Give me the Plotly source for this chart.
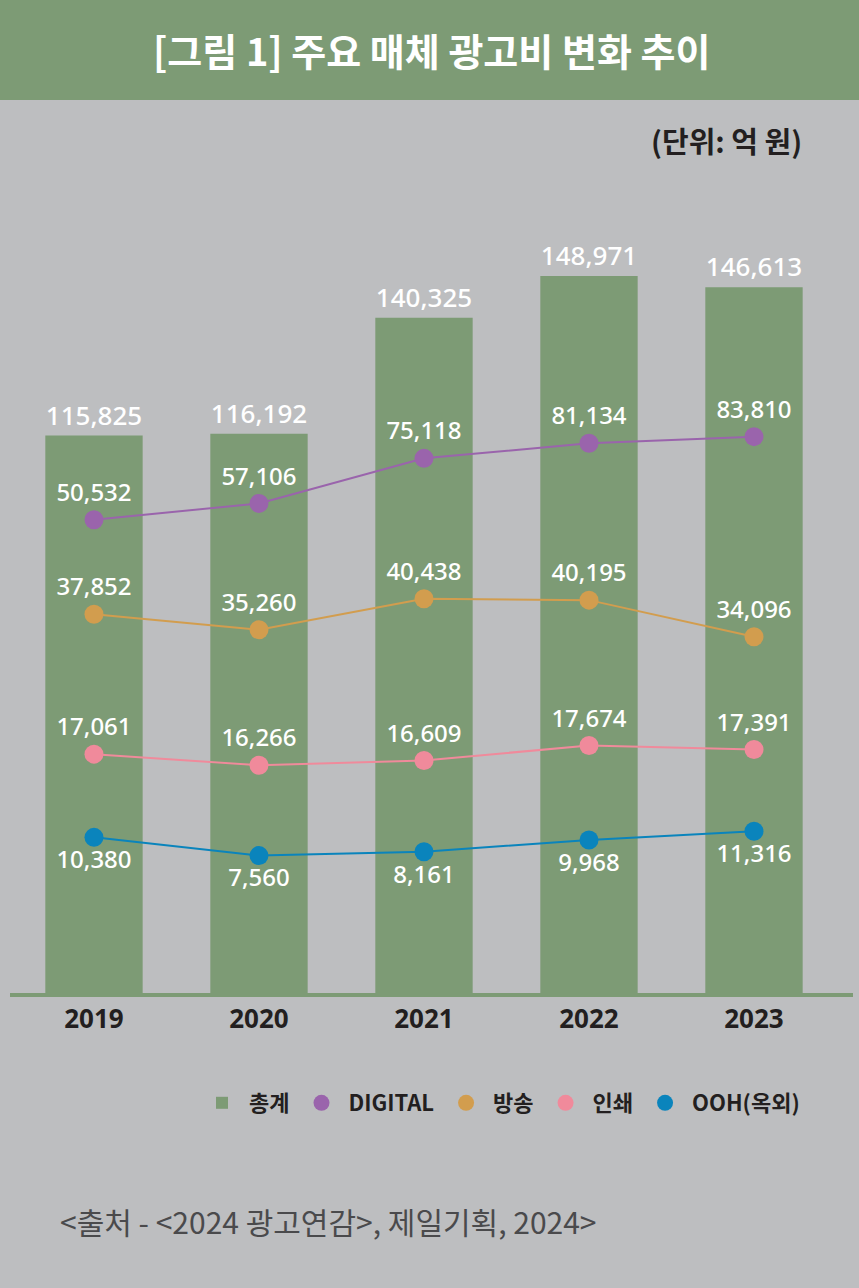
import plotly.graph_objects as go

# ---- data ----
years = ["2019", "2020", "2021", "2022", "2023"]
total = [115825, 116192, 140325, 148971, 146613]
digital = [50532, 57106, 75118, 81134, 83810]
broadcast = [37852, 35260, 40438, 40195, 34096]
printed = [17061, 16266, 16609, 17674, 17391]
ooh = [10380, 7560, 8161, 9968, 11316]

series_names = ["총계", "DIGITAL", "방송", "인쇄", "OOH(옥외)"]

# ---- styles ----
GREEN = "#7d9b75"
PURPLE = "#9a64ac"
ORANGE = "#d29d4e"
PINK = "#f08a9b"
BLUE = "#0a84bc"
BG = "#bdbec0"
DARK = "#231f20"
NUM_FONT = "Noto Sans"
KR_FONT = "Noto Sans CJK KR"

W, H = 859, 1288
ML, MR, MT, MB = 10, 6, 180, 295
PW = W - ML - MR
PH = H - MT - MB


def px(q):
    return (q - ML) / PW


def py(p):
    return (H - MB - p) / PH


fig = go.Figure()

fig.add_trace(go.Bar(
    x=years, y=total, name=series_names[0], marker=dict(color=GREEN, line=dict(width=0)),
    width=0.59, texttemplate="%{y:,}", textposition="outside", constraintext="none",
    textfont=dict(family=NUM_FONT, size=26, color="white", weight=500), cliponaxis=False,
    hoverinfo="skip", yaxis="y",
))

line_series = [
    (digital, PURPLE, "y2", "top center", series_names[1]),
    (broadcast, ORANGE, "y3", "top center", series_names[2]),
    (printed, PINK, "y4", "top center", series_names[3]),
    (ooh, BLUE, "y5", "bottom center", series_names[4]),
]

for vals, col, ax, tpos, nm in line_series:
    fig.add_trace(go.Scatter(
        x=years, y=vals, yaxis=ax, mode="lines+markers+text", name=nm,
        line=dict(color=col, width=2), marker=dict(size=19, color=col),
        texttemplate="%{y:,}", textposition=tpos,
        textfont=dict(family=NUM_FONT, size=24, color="white", weight=500),
        cliponaxis=False, showlegend=False, hoverinfo="skip",
    ))

# legend entries (circle symbols only)
for vals, col, ax, tpos, nm in line_series:
    fig.add_trace(go.Scatter(
        x=[None], y=[None], mode="markers", name=nm,
        marker=dict(size=24, color=col), showlegend=True,
    ))

fig.update_layout(
    width=W, height=H,
    margin=dict(l=ML, r=MR, t=MT, b=MB, pad=0),
    paper_bgcolor=BG, plot_bgcolor="rgba(0,0,0,0)",
    showlegend=True,
    legend=dict(
        orientation="h", x=px(805), xanchor="right", y=py(1103), yanchor="middle",
        font=dict(family=KR_FONT, size=22, color=DARK, weight="bold"),
        bgcolor="rgba(0,0,0,0)", itemsizing="trace", traceorder="normal",
        itemwidth=44,
    ),
    xaxis=dict(
        type="category", range=[-0.509, 4.6], showline=True, linecolor=GREEN,
        linewidth=4, ticks="", showgrid=False, zeroline=False,
        tickfont=dict(family=NUM_FONT, size=26, color=DARK, weight="bold"),
        fixedrange=True,
    ),
    yaxis=dict(range=[0, 168920], visible=False, showgrid=False, zeroline=False, fixedrange=True),
    yaxis2=dict(range=[-138740, 186460], overlaying="y", visible=False, showgrid=False, zeroline=False),
    yaxis3=dict(range=[-25282, 110218], overlaying="y", visible=False, showgrid=False, zeroline=False),
    yaxis4=dict(range=[0, 58071], overlaying="y", visible=False, showgrid=False, zeroline=False),
    yaxis5=dict(range=[-13658, 111900], overlaying="y", visible=False, showgrid=False, zeroline=False),
    bargap=0.41,
)

# title banner
fig.add_shape(type="rect", xref="paper", yref="paper",
              x0=px(0), x1=px(W), y0=py(100), y1=py(0),
              fillcolor=GREEN, line=dict(width=0), layer="below")

fig.add_annotation(
    text="<b>[그림 1] 주요 매체 광고비 변화 추이</b>", xref="paper", yref="paper",
    x=px(431), y=py(50), xanchor="center", yanchor="middle", showarrow=False,
    font=dict(family=KR_FONT, size=38, color="white"),
)

fig.add_annotation(
    text="<b>(단위: 억 원)</b>", xref="paper", yref="paper",
    x=px(804), y=py(140), xanchor="right", yanchor="middle", showarrow=False,
    font=dict(family=KR_FONT, size=29, color=DARK),
)

fig.add_annotation(
    text="&lt;출처 - &lt;2024 광고연감&gt;, 제일기획, 2024&gt;", xref="paper", yref="paper",
    x=px(58), y=py(1221), xanchor="left", yanchor="middle", showarrow=False,
    font=dict(family=KR_FONT, size=30, color="#4a4a4c"),
)

fig.write_html("out.html")
